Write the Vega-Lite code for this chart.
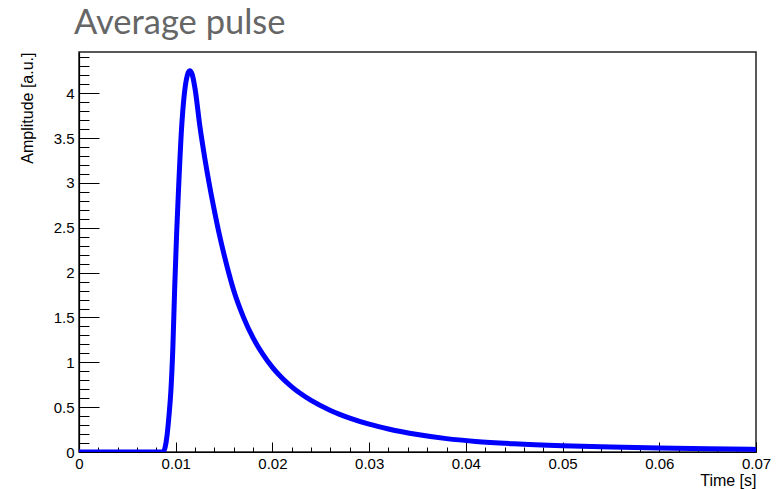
{
  "$schema": "https://vega.github.io/schema/vega-lite/v6.json",
  "width": 677,
  "height": 400,
  "autosize": {"type": "none"},
  "padding": {"left": 79, "top": 52, "right": 27, "bottom": 37},
  "background": "white",
  "title": {"text": "Average pulse", "anchor": "start", "frame": "group", "font": "Lato", "fontSize": 34.5, "fontWeight": "normal", "color": "#666666", "baseline": "alphabetic", "offset": 21, "dx": -5, "dy": 39},
  "data": {"values": [
    {"time": 0, "amp": 0},
    {"time": 0.004, "amp": 0},
    {"time": 0.0087, "amp": 0},
    {"time": 0.0089, "amp": 0.05},
    {"time": 0.0091, "amp": 0.18},
    {"time": 0.0093, "amp": 0.4},
    {"time": 0.0095, "amp": 0.68},
    {"time": 0.0097, "amp": 1.15},
    {"time": 0.0099, "amp": 1.85},
    {"time": 0.0101, "amp": 2.45},
    {"time": 0.0103, "amp": 2.95},
    {"time": 0.0106, "amp": 3.6},
    {"time": 0.0109, "amp": 4.0},
    {"time": 0.0112, "amp": 4.2},
    {"time": 0.01145, "amp": 4.25},
    {"time": 0.0117, "amp": 4.21},
    {"time": 0.012, "amp": 4.05},
    {"time": 0.0125, "amp": 3.63},
    {"time": 0.013, "amp": 3.28},
    {"time": 0.0135, "amp": 2.97},
    {"time": 0.014, "amp": 2.69},
    {"time": 0.0145, "amp": 2.43},
    {"time": 0.015, "amp": 2.2},
    {"time": 0.0155, "amp": 1.99},
    {"time": 0.016, "amp": 1.8},
    {"time": 0.017, "amp": 1.504},
    {"time": 0.018, "amp": 1.272},
    {"time": 0.019, "amp": 1.09},
    {"time": 0.02, "amp": 0.943},
    {"time": 0.021, "amp": 0.824},
    {"time": 0.022, "amp": 0.726},
    {"time": 0.024, "amp": 0.575},
    {"time": 0.026, "amp": 0.463},
    {"time": 0.028, "amp": 0.378},
    {"time": 0.03, "amp": 0.31},
    {"time": 0.032, "amp": 0.257},
    {"time": 0.035, "amp": 0.195},
    {"time": 0.038, "amp": 0.149},
    {"time": 0.041, "amp": 0.118},
    {"time": 0.045, "amp": 0.091},
    {"time": 0.05, "amp": 0.069},
    {"time": 0.055, "amp": 0.0547},
    {"time": 0.06, "amp": 0.044},
    {"time": 0.065, "amp": 0.0354},
    {"time": 0.07, "amp": 0.0287}
  ]},
  "mark": {"type": "line", "color": "#0000ff", "strokeWidth": 5, "interpolate": "monotone", "clip": true},
  "encoding": {
    "x": {
      "field": "time", "type": "quantitative",
      "scale": {"domain": [0, 0.07], "nice": false, "zero": false},
      "axis": {
        "title": "Time [s]",
        "titleAnchor": "end",
        "titlePadding": -4,
        "values": [0,0.002,0.004,0.006,0.008,0.01,0.012,0.014,0.016,0.018,0.02,0.022,0.024,0.026,0.028,0.03,0.032,0.034,0.036,0.038,0.04,0.042,0.044,0.046,0.048,0.05,0.052,0.054,0.056,0.058,0.06,0.062,0.064,0.066,0.068,0.07],
        "labelExpr": "abs(datum.value*100-round(datum.value*100))<1e-6 ? format(datum.value,'~g') : ''",
        "tickSize": {"condition": {"test": "abs(datum.value*100-round(datum.value*100))<1e-6", "value": -10}, "value": -5},
        "labelPadding": 14,
        "labelFlush": false
      }
    },
    "y": {
      "field": "amp", "type": "quantitative",
      "scale": {"domain": [0, 4.46], "nice": false, "zero": true},
      "axis": {
        "title": "Amplitude [a.u.]",
        "titleAnchor": "end",
        "titlePadding": 18,
        "values": [0,0.1,0.2,0.3,0.4,0.5,0.6,0.7,0.8,0.9,1,1.1,1.2,1.3,1.4,1.5,1.6,1.7,1.8,1.9,2,2.1,2.2,2.3,2.4,2.5,2.6,2.7,2.8,2.9,3,3.1,3.2,3.3,3.4,3.5,3.6,3.7,3.8,3.9,4,4.1,4.2,4.3,4.4],
        "labelExpr": "abs(datum.value*2-round(datum.value*2))<1e-6 ? format(datum.value,'~g') : ''",
        "tickSize": {"condition": {"test": "abs(datum.value*2-round(datum.value*2))<1e-6", "value": -20}, "value": -10},
        "labelPadding": 25,
        "labelFlush": false
      }
    }
  },
  "config": {
    "view": {"stroke": "#222222", "strokeWidth": 1.5},
    "axis": {
      "grid": false,
      "domainColor": "#000000",
      "domainWidth": 1.2,
      "tickColor": "#000000",
      "tickWidth": 1,
      "labelFont": "Liberation Sans",
      "labelFontSize": 15,
      "labelColor": "#000000",
      "labelOverlap": false,
      "labelBound": false,
      "titleFont": "Liberation Sans",
      "titleFontSize": 16,
      "titleFontWeight": "normal",
      "titleColor": "#000000"
    }
  }
}
